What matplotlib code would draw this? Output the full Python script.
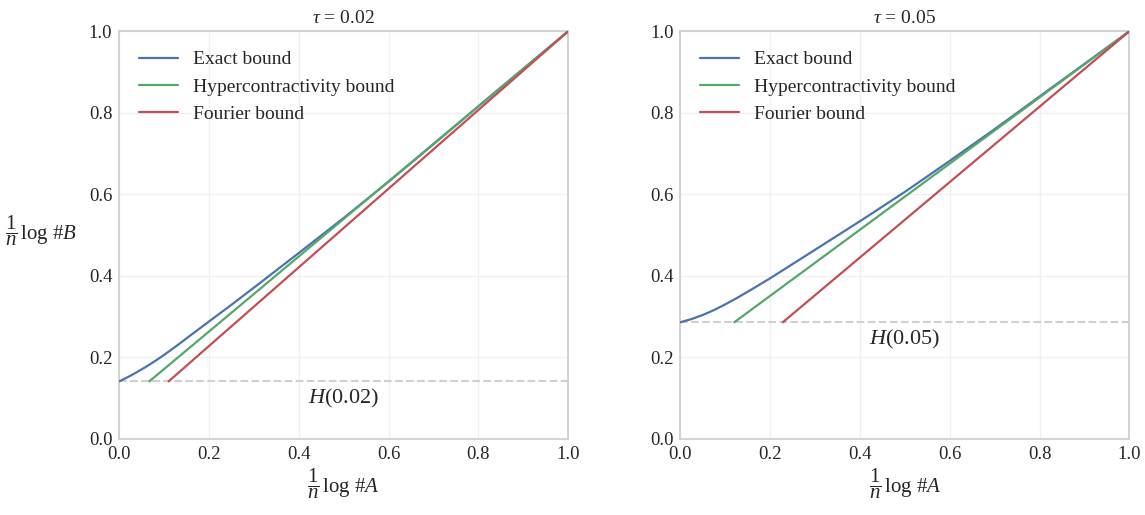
import matplotlib
matplotlib.use('Agg')
import matplotlib.pyplot as plt
import seaborn as sns

# values
taus = ["0.02", "0.05"]
entropy = [0.141, 0.286]

exact_x_02 = [0.0, 0.02, 0.04, 0.06, 0.08, 0.1, 0.13, 0.16, 0.2, 0.25, 0.3,
              0.4, 0.5, 0.6, 0.7, 0.8, 0.9, 1.0]
exact_y_02 = [0.141, 0.152, 0.164, 0.177, 0.191, 0.206, 0.230, 0.255, 0.288, 0.329, 0.371,
              0.456, 0.542, 0.631, 0.723, 0.816, 0.908, 1.0]
hyper_x_02 = [0.067, 1.0]
hyper_y_02 = [0.141, 1.0]
fourier_x_02 = [0.110, 1.0]
fourier_y_02 = [0.141, 1.0]

exact_x_05 = [0.0, 0.025, 0.05, 0.075, 0.1, 0.125, 0.15, 0.2, 0.25, 0.3,
              0.4, 0.5, 0.6, 0.7, 0.8, 0.9, 1.0]
exact_y_05 = [0.286, 0.294, 0.304, 0.316, 0.330, 0.345, 0.361, 0.394, 0.429, 0.464,
              0.534, 0.606, 0.682, 0.760, 0.840, 0.920, 1.0]
hyper_x_05 = [0.120, 1.0]
hyper_y_05 = [0.286, 1.0]
fourier_x_05 = [0.228, 1.0]
fourier_y_05 = [0.286, 1.0]

panels = [
    (exact_x_02, exact_y_02, hyper_x_02, hyper_y_02, fourier_x_02, fourier_y_02),
    (exact_x_05, exact_y_05, hyper_x_05, hyper_y_05, fourier_x_05, fourier_y_05),
]

sns.set_style('whitegrid')
plt.rcParams['font.family'] = ['Liberation Serif', 'DejaVu Serif']
plt.rcParams['mathtext.fontset'] = 'custom'
plt.rcParams['mathtext.rm'] = 'Liberation Serif'
plt.rcParams['mathtext.it'] = 'Liberation Serif:italic'
plt.rcParams['mathtext.bf'] = 'Liberation Serif:bold'

blue, green, red = '#4C72B0', '#55A868', '#C44E52'
text_color = '#262626'

fig = plt.figure(figsize=(11.45, 5.15), dpi=100)
axes = [fig.add_axes([0.1042, 0.148, 0.392, 0.7912]),
        fig.add_axes([0.5943, 0.148, 0.392, 0.7912])]

for i, ax in enumerate(axes):
    ex, ey, hx, hy, fx, fy = panels[i]
    ax.axhline(entropy[i], color='#d0d0d0', linestyle='--', linewidth=1.5, zorder=1)
    ax.plot(ex, ey, color=blue, linewidth=1.6, label='Exact bound', zorder=3)
    ax.plot(hx, hy, color=green, linewidth=1.6, label='Hypercontractivity bound', zorder=3)
    ax.plot(fx, fy, color=red, linewidth=1.6, label='Fourier bound', zorder=3)
    ax.text(0.5, entropy[i] - 0.042, r'$H(' + taus[i] + ')$', fontsize=16,
            ha='center', va='center', color=text_color)

    ax.set_xlim(0, 1)
    ax.set_ylim(0, 1)
    ax.set_xticks([0, 0.2, 0.4, 0.6, 0.8, 1.0])
    ax.set_yticks([0, 0.2, 0.4, 0.6, 0.8, 1.0])
    ax.tick_params(labelsize=13.5, colors=text_color, pad=5, length=0)
    ax.grid(True, color='#f0f0f0', linewidth=1)
    for s in ax.spines.values():
        s.set_color('#cccccc')
        s.set_linewidth(1.2)

    ax.set_title(r'$\tau$ = ' + taus[i], fontsize=14, color=text_color, pad=6)
    ax.set_xlabel(r'$\dfrac{1}{n}\,\log\,$#$A$', fontsize=15, color=text_color)
    ax.xaxis.set_label_coords(0.5, -0.068, transform=ax.transAxes)
    ax.xaxis.label.set_va('top')
    ax.legend(loc='upper left', fontsize=14, frameon=False, handlelength=2.0,
              borderaxespad=0.6, labelspacing=0.5, handletextpad=0.8)

axes[0].set_ylabel(r'$\dfrac{1}{n}\,\log\,$#$B$', fontsize=15, color=text_color, rotation=0)
axes[0].yaxis.set_label_coords(-0.175, 0.51)
axes[0].yaxis.label.set_va('center')

fig.savefig('out.png', dpi=100)
plt.close(fig)
